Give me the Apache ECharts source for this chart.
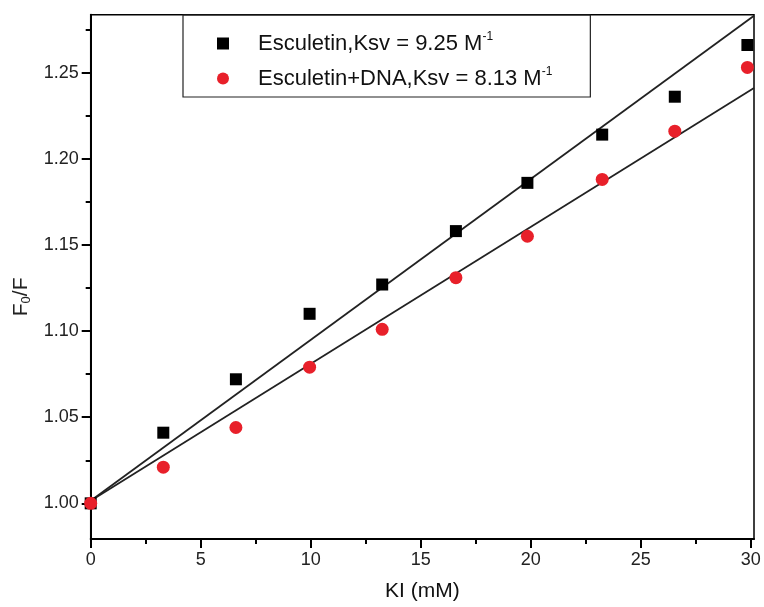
<!DOCTYPE html>
<html><head><meta charset="utf-8">
<script src="https://cdn.jsdelivr.net/npm/echarts@6/dist/echarts.min.js"></script>
<style>html,body{margin:0;padding:0;background:#fff}#c{width:764px;height:607px}</style>
</head><body><div id="c"></div>
<script>
var kiValues = [0, 3.3, 6.6, 9.95, 13.25, 16.6, 19.85, 23.25, 26.55, 29.85];
var esculetin = [1.000, 1.041, 1.072, 1.110, 1.127, 1.158, 1.186, 1.214, 1.236, 1.266];
var esculetinDNA = [1.000, 1.021, 1.044, 1.079, 1.101, 1.131, 1.155, 1.188, 1.216, 1.253];
var fitEsculetinX = [0, 30.15];
var fitEsculetinY = [1.0015, 1.283];
var fitDNAX = [0, 30.15];
var fitDNAY = [1.0015, 1.241];
var yTickLabels = [1.00, 1.05, 1.10, 1.15, 1.20, 1.25];
var yMinorTicks = [1.025, 1.075, 1.125, 1.175, 1.225, 1.275];
var xTickLabels = [0, 5, 10, 15, 20, 25, 30];
var xMinorTicks = [2.5, 7.5, 12.5, 17.5, 22.5, 27.5];
var seriesNames = ['Esculetin,Ksv = 9.25 M', 'Esculetin+DNA,Ksv = 8.13 M'];

function zip(a, b) { return a.map(function (v, i) { return [v, b[i]]; }); }

var FONT = 'Liberation Sans, Arial, sans-serif';
var YMIN = 0.9793, YMAX = 1.2836, XMIN = 0, XMAX = 30.15;

var chart = echarts.init(document.getElementById('c'));
chart.setOption({
  animation: false,
  grid: { left: 90.7, right: 10, top: 14.7, bottom: 67, show: true, borderColor: '#000', borderWidth: 1.5, backgroundColor: 'transparent' },
  legend: {
    orient: 'vertical', left: 183, top: 15,
    padding: [16, 38, 5, 34], itemGap: 9,
    borderColor: '#222', borderWidth: 1.2,
    itemWidth: 12, itemHeight: 12,
    data: [{ name: seriesNames[0], icon: 'rect' }, { name: seriesNames[1], icon: 'circle' }],
    formatter: function (n) { return '{a|' + n + '}{s|-1}'; },
    textStyle: {
      padding: [0, 0, 0, 24],
      rich: {
        a: { fontFamily: FONT, fontSize: 22, color: '#111', lineHeight: 25 },
        s: { fontFamily: FONT, fontSize: 12, color: '#111', verticalAlign: 'top', lineHeight: 25, padding: [0, 0, 14, 0] }
      }
    }
  },
  xAxis: [{
    type: 'value', min: XMIN, max: XMAX, position: 'bottom',
    name: 'KI (mM)', nameLocation: 'middle', nameGap: 42,
    nameTextStyle: { fontFamily: FONT, fontSize: 21, color: '#111' },
    axisLine: { show: true, onZero: false, lineStyle: { color: '#000', width: 2 } },
    axisTick: { show: true, inside: false, length: 9, customValues: xTickLabels, lineStyle: { color: '#000', width: 2 } },
    axisLabel: { customValues: xTickLabels, fontFamily: FONT, fontSize: 18, color: '#222', margin: 12, showMaxLabel: true, showMinLabel: true },
    splitLine: { show: false }
  }, {
    type: 'value', min: XMIN, max: XMAX, position: 'bottom',
    axisLine: { show: false, onZero: false },
    axisTick: { show: true, length: 5, customValues: xMinorTicks, lineStyle: { color: '#000', width: 2 } },
    axisLabel: { show: false }, splitLine: { show: false }
  }],
  yAxis: [{
    type: 'value', min: YMIN, max: YMAX, position: 'left',
    name: '{a|F}{b|0}{a|/F}', nameLocation: 'middle', nameGap: 58,
    nameTextStyle: {
      padding: [0, 40, 0, 0],
      rich: {
        a: { fontFamily: FONT, fontSize: 21, color: '#222' },
        b: { fontFamily: FONT, fontSize: 13, color: '#222', verticalAlign: 'bottom', padding: [10, 0, 0, 0] }
      }
    },
    axisLine: { show: true, onZero: false, lineStyle: { color: '#000', width: 2 } },
    axisTick: { show: true, length: 9, customValues: yTickLabels, lineStyle: { color: '#000', width: 2 } },
    axisLabel: { customValues: yTickLabels, fontFamily: FONT, fontSize: 18, color: '#222', margin: 12,
      formatter: function (v) { return v.toFixed(2); } },
    splitLine: { show: false }
  }, {
    type: 'value', min: YMIN, max: YMAX, position: 'left',
    axisLine: { show: false, onZero: false },
    axisTick: { show: true, length: 5, customValues: yMinorTicks, lineStyle: { color: '#000', width: 2 } },
    axisLabel: { show: false }, splitLine: { show: false }
  }],
  series: [
    { name: 'fit1', type: 'line', data: zip(fitEsculetinX, fitEsculetinY), symbol: 'none', lineStyle: { color: '#222', width: 1.8 }, silent: true, z: 1 },
    { name: 'fit2', type: 'line', data: zip(fitDNAX, fitDNAY), symbol: 'none', lineStyle: { color: '#222', width: 1.8 }, silent: true, z: 1 },
    { name: seriesNames[0], type: 'scatter', data: zip(kiValues, esculetin), symbol: 'rect', symbolSize: 12, itemStyle: { color: '#000', opacity: 1 }, z: 3 },
    { name: seriesNames[1], type: 'scatter', data: zip(kiValues, esculetinDNA), symbol: 'circle', symbolSize: 13, itemStyle: { color: '#e8202a', opacity: 1 }, z: 4 }
  ]
});
</script></body></html>
